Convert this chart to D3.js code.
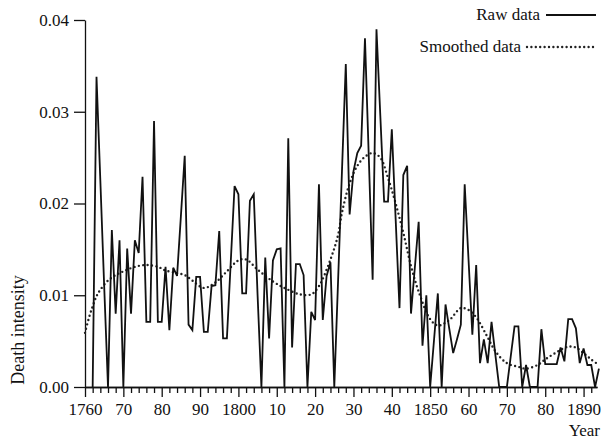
<!DOCTYPE html>
<html>
<head>
<meta charset="utf-8">
<script src="https://cdn.jsdelivr.net/npm/d3@7"></script>
<style>
  body { margin: 0; background: #fff; }
  svg text { font-family: "Liberation Serif", "Times New Roman", serif; fill: #111; }
</style>
</head>
<body>
<div id="chart"></div>
<script>
// Death intensity chart

var svgWidth = 603;
var svgHeight = 439;

// Raw yearly values, first year 1762
var rawStart = 1762;
var rawValues = [
  0, 0.0338, 0.0225, 0.0110, 0, 0.0171, 0.0080, 0.0160, 0, 0.0151,      // 1762-1771
  0.0080, 0.0160, 0.0146, 0.0229, 0.0071, 0.0071, 0.0290, 0.0071, 0.0071, 0.0131, // 1772-1781
  0.0062, 0.0130, 0.0121, 0.0186, 0.0252, 0.0068, 0.0062, 0.0120, 0.0120, 0.0060, // 1782-1791
  0.0060, 0.0110, 0.0111, 0.0170, 0.0053, 0.0053, 0.0136, 0.0219, 0.0210, 0.0102, // 1792-1801
  0.0102, 0.0203, 0.0210, 0.0100, 0, 0.0141, 0.0053, 0.0138, 0.0150, 0.0151,     // 1802-1811
  0, 0.0271, 0.0043, 0.0134, 0.0134, 0.0122, 0, 0.0082, 0.0073, 0.0221,          // 1812-1821
  0.0073, 0.0121, 0.0136, 0, 0.0117, 0.0235, 0.0352, 0.0188, 0.0235, 0.0255,     // 1822-1831
  0.0263, 0.0380, 0.0250, 0.0117, 0.0390, 0.0296, 0.0202, 0.0202, 0.0281, 0.0183, // 1832-1841
  0.0086, 0.0231, 0.0241, 0.0080, 0.0130, 0.0180, 0.0045, 0.0100, 0, 0.0051,     // 1842-1851
  0.0102, 0, 0.0090, 0.0063, 0.0037, 0.0052, 0.0068, 0.0221, 0.0139, 0.0057,     // 1852-1861
  0.0133, 0.0026, 0.0052, 0.0026, 0.0071, 0.0035, 0, 0, 0, 0.0033,               // 1862-1871
  0.0066, 0.0066, 0, 0.0024, 0, 0, 0, 0.0063, 0.0025, 0.0025,                    // 1872-1881
  0.0025, 0.0025, 0.0043, 0.0028, 0.0074, 0.0074, 0.0064, 0.0026, 0.0042, 0.0024, // 1882-1891
  0.0024, 0, 0.0020                                                              // 1892-1894
];

// Smoothed curve, read at these years
var smoothYears = [1760, 1761, 1762, 1763, 1764, 1766, 1768, 1770, 1773, 1776,
  1779, 1781, 1784, 1786, 1788, 1791, 1794, 1797, 1800, 1802,
  1805, 1809, 1812, 1816, 1819, 1821, 1824, 1826, 1827, 1829,
  1831, 1833, 1835, 1837, 1839, 1841, 1843, 1845, 1847, 1850,
  1852, 1855, 1858, 1860, 1862, 1865, 1867, 1870, 1873, 1875,
  1878, 1880, 1883, 1886, 1888, 1890, 1892, 1894];
var smoothValues = [0.0059, 0.0075, 0.0088, 0.0099, 0.0106, 0.0116, 0.0122, 0.0126, 0.0131, 0.0133,
  0.0131, 0.0127, 0.0124, 0.0122, 0.0116, 0.0108, 0.0114, 0.0126, 0.0138, 0.0139,
  0.0128, 0.0115, 0.0108, 0.0101, 0.0101, 0.0110, 0.0139, 0.0166, 0.0190, 0.0222,
  0.0241, 0.0251, 0.0255, 0.0250, 0.0228, 0.0200, 0.0168, 0.0132, 0.0104, 0.0074,
  0.0067, 0.0073, 0.0086, 0.0084, 0.0076, 0.0054, 0.0039, 0.0026, 0.0022, 0.0020,
  0.0024, 0.0030, 0.0038, 0.0044, 0.0043, 0.0037, 0.0030, 0.0024];

// Axis ticks
var majorTicks = [1760, 1770, 1780, 1790, 1800, 1810, 1820, 1830, 1840, 1850, 1860, 1870, 1880, 1890];
var majorLabels = ["1760", "70", "80", "90", "1800", "10", "20", "30", "40", "1850", "60", "70", "80", "1890"];
var yTicks = [0, 0.01, 0.02, 0.03, 0.04];
var legendLabels = ["Raw data", "Smoothed data"];

var rawData = rawValues.map(function(v, i) { return { year: rawStart + i, value: v }; });
var smoothData = smoothYears.map(function(yr, i) { return { year: yr, value: smoothValues[i] }; });

var svg = d3.select("#chart").append("svg")
  .attr("width", svgWidth)
  .attr("height", svgHeight);

// Scales
var xScale = d3.scaleLinear().domain([1760, 1893.5]).range([85, 597]);
var yScale = d3.scaleLinear().domain([0, 0.04]).range([387, 20]);

// Minor x ticks every two years
var minorTicks = [];
for (var t = 1762; t <= 1892; t += 2) {
  if (t % 10 !== 0) minorTicks.push(t);
}

var xMinor = svg.append("g")
  .attr("transform", "translate(0,387)")
  .call(d3.axisBottom(xScale).tickValues(minorTicks).tickSize(6).tickSizeOuter(0).tickFormat(""));

var xMajor = svg.append("g")
  .attr("transform", "translate(0,387)")
  .call(d3.axisBottom(xScale)
    .tickValues(majorTicks)
    .tickSize(10)
    .tickSizeOuter(0)
    .tickPadding(6)
    .tickFormat(function(d, i) { return majorLabels[i]; }));

var yAxis = svg.append("g")
  .attr("transform", "translate(85,0)")
  .call(d3.axisLeft(yScale)
    .tickValues(yTicks)
    .tickSize(11)
    .tickSizeOuter(0)
    .tickPadding(5)
    .tickFormat(d3.format(".2f")));

svg.selectAll(".domain, .tick line")
  .attr("stroke", "#111")
  .attr("stroke-width", 1.3);

svg.selectAll(".tick text")
  .attr("font-size", "17px")
  .attr("fill", "#111");

// Axis titles
svg.append("text")
  .attr("transform", "rotate(-90)")
  .attr("x", -330)
  .attr("y", 24)
  .attr("text-anchor", "middle")
  .attr("font-size", "18px")
  .text("Death intensity");

svg.append("text")
  .attr("x", 600)
  .attr("y", 436)
  .attr("text-anchor", "end")
  .attr("font-size", "17px")
  .text("Year");

// Smoothed line
var smoothLine = d3.line()
  .x(function(d) { return xScale(d.year); })
  .y(function(d) { return yScale(d.value); })
  .curve(d3.curveCatmullRom.alpha(0.5));

svg.append("path")
  .datum(smoothData)
  .attr("d", smoothLine)
  .attr("fill", "none")
  .attr("stroke", "#222")
  .attr("stroke-width", 2.4)
  .attr("stroke-linecap", "round")
  .attr("stroke-dasharray", "0 4.4");

// Raw line
var rawLine = d3.line()
  .x(function(d) { return xScale(d.year); })
  .y(function(d) { return yScale(d.value); });

svg.append("path")
  .datum(rawData)
  .attr("d", rawLine)
  .attr("fill", "none")
  .attr("stroke", "#111")
  .attr("stroke-width", 1.8)
  .attr("stroke-linejoin", "miter");

// Legend
var legend = svg.append("g");

legend.append("text")
  .attr("x", 540)
  .attr("y", 20)
  .attr("text-anchor", "end")
  .attr("font-size", "17px")
  .text(legendLabels[0]);

legend.append("line")
  .attr("x1", 546).attr("x2", 596)
  .attr("y1", 15).attr("y2", 15)
  .attr("stroke", "#111")
  .attr("stroke-width", 1.8);

legend.append("text")
  .attr("x", 521)
  .attr("y", 52)
  .attr("text-anchor", "end")
  .attr("font-size", "17px")
  .text(legendLabels[1]);

legend.append("line")
  .attr("x1", 527).attr("x2", 596)
  .attr("y1", 47).attr("y2", 47)
  .attr("stroke", "#222")
  .attr("stroke-width", 2.4)
  .attr("stroke-linecap", "round")
  .attr("stroke-dasharray", "0 4.4");
</script>
</body>
</html>
